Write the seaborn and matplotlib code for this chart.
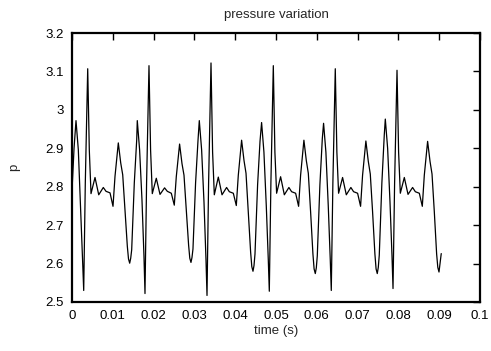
import matplotlib
matplotlib.use("Agg")
import matplotlib.pyplot as plt
import matplotlib.ticker as mticker
import seaborn as sns
import pandas as pd

# ---- data ----
time_start = [0.0, 0.0005]
p_start = [2.79, 2.90]

time_c1 = [0.00098, 0.00155, 0.00213, 0.00262, 0.00287, 0.00326, 0.00385, 0.00424, 0.00466,
           0.00564, 0.00655, 0.00767, 0.00834, 0.00932, 0.01005, 0.01054, 0.01135, 0.01194,
           0.01243, 0.01299, 0.01356, 0.01385, 0.01414, 0.01439, 0.01463, 0.01527, 0.01586]
p_c1 = [2.972, 2.896, 2.740, 2.601, 2.530, 2.810, 3.107, 2.896, 2.782, 2.824, 2.779, 2.798,
        2.788, 2.784, 2.749, 2.827, 2.914, 2.862, 2.831, 2.740, 2.645, 2.612, 2.601, 2.614,
        2.636, 2.810, 2.922]

time_c2 = [0.01600, 0.01657, 0.01715, 0.01764, 0.01789, 0.01828, 0.01887, 0.01926, 0.01968,
           0.02066, 0.02157, 0.02269, 0.02336, 0.02434, 0.02507, 0.02556, 0.02637, 0.02696,
           0.02745, 0.02801, 0.02858, 0.02887, 0.02916, 0.02941, 0.02965, 0.03029, 0.03088]
p_c2 = [2.972, 2.896, 2.766, 2.619, 2.522, 2.810, 3.115, 2.896, 2.782, 2.822, 2.780, 2.797,
        2.788, 2.783, 2.752, 2.826, 2.911, 2.860, 2.830, 2.740, 2.648, 2.614, 2.603, 2.616,
        2.638, 2.810, 2.920]

time_c3 = [0.03120, 0.03177, 0.03235, 0.03284, 0.03309, 0.03348, 0.03407, 0.03446, 0.03488,
           0.03586, 0.03677, 0.03789, 0.03856, 0.03954, 0.04027, 0.04076, 0.04157, 0.04216,
           0.04265, 0.04321, 0.04378, 0.04407, 0.04436, 0.04461, 0.04485, 0.04549, 0.04608]
p_c3 = [2.972, 2.896, 2.760, 2.610, 2.517, 2.810, 3.122, 2.890, 2.779, 2.825, 2.779, 2.798,
        2.787, 2.783, 2.751, 2.830, 2.921, 2.868, 2.835, 2.735, 2.630, 2.592, 2.580, 2.595,
        2.625, 2.805, 2.918]

time_c4 = [0.04647, 0.04704, 0.04762, 0.04811, 0.04836, 0.04875, 0.04934, 0.04973, 0.05015,
           0.05113, 0.05204, 0.05316, 0.05383, 0.05481, 0.05554, 0.05603, 0.05684, 0.05743,
           0.05792, 0.05848, 0.05905, 0.05934, 0.05963, 0.05988, 0.06012, 0.06076, 0.06135]
p_c4 = [2.967, 2.890, 2.750, 2.610, 2.528, 2.810, 3.115, 2.890, 2.783, 2.826, 2.779, 2.798,
        2.787, 2.783, 2.749, 2.830, 2.921, 2.868, 2.835, 2.735, 2.625, 2.586, 2.574, 2.589,
        2.620, 2.805, 2.925]

time_c5 = [0.06166, 0.06223, 0.06281, 0.06330, 0.06355, 0.06394, 0.06453, 0.06492, 0.06534,
           0.06632, 0.06723, 0.06835, 0.06902, 0.07000, 0.07073, 0.07122, 0.07203, 0.07262,
           0.07311, 0.07367, 0.07424, 0.07453, 0.07482, 0.07507, 0.07531, 0.07595, 0.07654]
p_c5 = [2.965, 2.890, 2.750, 2.610, 2.530, 2.810, 3.107, 2.890, 2.783, 2.824, 2.779, 2.798,
        2.787, 2.783, 2.749, 2.830, 2.919, 2.866, 2.833, 2.735, 2.625, 2.586, 2.574, 2.590,
        2.622, 2.810, 2.935]

time_c6 = [0.07679, 0.07736, 0.07794, 0.07843, 0.07868, 0.07907, 0.07966, 0.08005, 0.08047,
           0.08145, 0.08236, 0.08348, 0.08415, 0.08513, 0.08586, 0.08635, 0.08716, 0.08775,
           0.08824, 0.08880, 0.08937, 0.08966, 0.08995, 0.0905]
p_c6 = [2.976, 2.900, 2.760, 2.620, 2.535, 2.810, 3.103, 2.890, 2.783, 2.824, 2.780, 2.798,
        2.787, 2.783, 2.749, 2.830, 2.918, 2.866, 2.833, 2.735, 2.625, 2.590, 2.578, 2.626]

x_ticks = [0, 0.01, 0.02, 0.03, 0.04, 0.05, 0.06, 0.07, 0.08, 0.09, 0.1]
y_ticks = [2.5, 2.6, 2.7, 2.8, 2.9, 3.0, 3.1, 3.2]

title_text = "pressure variation"
xlabel_text = "time (s)"
ylabel_text = "p"

# ---- build table ----
df = pd.DataFrame({
    "time": time_start + time_c1 + time_c2 + time_c3 + time_c4 + time_c5 + time_c6,
    "p": p_start + p_c1 + p_c2 + p_c3 + p_c4 + p_c5 + p_c6,
})

sns.set_style("white")
plt.rcParams["font.family"] = ["Liberation Sans", "DejaVu Sans"]
plt.rcParams["font.size"] = 9.5

fig = plt.figure(figsize=(4.91, 3.51), dpi=100)
ax = fig.add_axes([72 / 491, 1 - 302 / 351, (480 - 72) / 491, (302 - 33) / 351])

sns.lineplot(data=df, x="time", y="p", ax=ax, color="black", linewidth=0.9,
             estimator=None, sort=False)

ax.set_xlim(0, 0.1)
ax.set_ylim(2.5, 3.2)
ax.set_xticks(x_ticks)
ax.set_yticks(y_ticks)
fmt = mticker.FuncFormatter(lambda v, pos: "%g" % round(v, 4))
ax.xaxis.set_major_formatter(fmt)
ax.yaxis.set_major_formatter(fmt)

ax.tick_params(direction="in", length=5, width=1, colors="black",
               top=True, right=True, labelsize=9.5, pad=6)
for s in ax.spines.values():
    s.set_visible(True)
    s.set_color("black")
    s.set_linewidth(1.6)

ax.set_title(title_text, fontsize=9.5, pad=11)
ax.set_xlabel(xlabel_text, fontsize=9.5, labelpad=2)
ax.set_ylabel(ylabel_text, fontsize=9.5, labelpad=18)

fig.savefig("out.png", dpi=100)
